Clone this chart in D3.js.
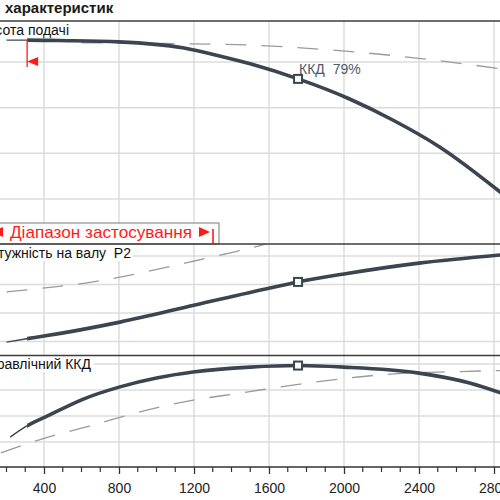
<!DOCTYPE html>
<html><head><meta charset="utf-8">
<script src="https://cdn.jsdelivr.net/npm/d3@7"></script>
<style>
html,body{margin:0;padding:0;background:#fff}
svg{display:block;font-family:"Liberation Sans",Arial,sans-serif}
text{white-space:pre}
</style>
</head><body>
<svg id="chart" width="500" height="500"></svg>
<script>
// ---------- data (flow Q) ----------
const flowTicks = [400, 800, 1200, 1600, 2000, 2400, 2800];
const flowTickLabels = ["400", "800", "1200", "1600", "2000", "2400", "2800"];

const headQ = [200, 310, 480, 800, 1140, 1320, 1500, 1755, 2030, 2260, 2510, 2840];
const headH = [44.8, 44.8, 44.7, 44.4, 43.1, 41.5, 39.6, 36.3, 31.9, 27.3, 21.4, 11.3];
const headRefQ = [600, 1050, 1500, 1940, 2400, 2840];
const headRefH = [44.2, 44.05, 43.7, 42.6, 40.8, 38.5];

const powerQ = [200, 300, 400, 805, 1205, 1605, 1755, 2000, 2400, 2840];
const powerP = [9.8, 10.9, 11.9, 16.8, 22.8, 28.8, 30.9, 33.7, 37.5, 40.4];
const powerRefQ = [200, 405, 620, 805, 990, 1180, 1365, 1565, 1630];
const powerRefP = [27.4, 28.8, 30.5, 32.6, 35.1, 37.9, 40.7, 43.9, 45.3];

const effQ = [220, 300, 430, 610, 805, 1000, 1195, 1500, 1755, 2000, 2400, 2670, 2840];
const effE = [51.9, 55.8, 60.4, 66.5, 71.2, 74.6, 76.9, 78.8, 79.4, 78.8, 76.5, 72.7, 68.8];
const effRefQ = [170, 405, 645, 830, 1020, 1230, 1445, 1550, 1765, 1980, 2190, 2405, 2620, 2840];
const effRefE = [45.8, 51.5, 56.2, 60, 63.5, 66.5, 68.8, 70, 72.3, 74.2, 75.8, 76.7, 77.1, 77.5];

const headGrid = [10, 20, 30, 40];
const powerGrid = [10, 20, 30, 40];
const effGrid = [50, 60, 70, 80];

const bepQ = 1755;
const rangeStartQ = 310;

const titleText = "характеристик";
const headLabel = "Висота подачі";
const powerLabel = "Потужність на валу  P2";
const effLabel = "Гідравлічний ККД";
const bepLabel = "ККД  79%";
const rangeLabel = "Діапазон застосування";

// ---------- layout ----------
const W = 500, H = 500;
const top1 = 21, top2 = 244, top3 = 355.5, axisY = 467;
const curveColor = "#3a4550", gridColor = "#dcdcdc", red = "#ff1a1a";

const svg = d3.select("#chart");
const x = d3.scaleLinear().domain([400, 2800]).range([44, 494]);
const yH = d3.scaleLinear().domain([10, 40]).range([199, 62]);
const yP = d3.scaleLinear().domain([10, 40]).range([341.5, 256]);
const yE = d3.scaleLinear().domain([50, 80]).range([442, 364]);

const defs = svg.append("defs");
function clip(id, x0, y0, y1) {
  defs.append("clipPath").attr("id", id).append("rect")
    .attr("x", x0).attr("y", y0).attr("width", W - x0 + 20).attr("height", y1 - y0);
}
clip("p1", -10, top1, top2);
clip("p2", -10, top2, top3);
clip("p3", -10, top3, axisY);
const xs = x(rangeStartQ);
clip("p1t", xs, top1, top2);
clip("p2t", xs, top2, top3);
clip("p3t", xs, top3, axisY);

// vertical grid
svg.append("g").selectAll("line").data(flowTicks).join("line")
  .attr("x1", d => x(d)).attr("x2", d => x(d))
  .attr("y1", top1).attr("y2", axisY)
  .attr("stroke", gridColor).attr("stroke-width", 1.5);

// horizontal grids
function hgrid(vals, scale) {
  svg.append("g").selectAll("line").data(vals).join("line")
    .attr("x1", 0).attr("x2", W)
    .attr("y1", d => scale(d)).attr("y2", d => scale(d))
    .attr("stroke", gridColor).attr("stroke-width", 1.5);
}
hgrid(headGrid, yH);
hgrid(powerGrid, yP);
hgrid(effGrid, yE);

function panel(qs, vs, rqs, rvs, scale, cid) {
  const line = d3.line().x(d => x(d[0])).y(d => scale(d[1])).curve(d3.curveMonotoneX);
  const pts = qs.map((q, i) => [q, vs[i]]);
  const rpts = rqs.map((q, i) => [q, rvs[i]]);
  const g = svg.append("g").attr("clip-path", `url(#${cid})`);
  g.append("path").attr("d", line(rpts)).attr("fill", "none")
    .attr("stroke", "#9a9a9a").attr("stroke-width", 1.3).attr("stroke-dasharray", "21,15");
  g.append("path").attr("d", line(pts)).attr("fill", "none")
    .attr("stroke", curveColor).attr("stroke-width", 1.4);
  svg.append("g").attr("clip-path", `url(#${cid}t)`)
    .append("path").attr("d", line(pts)).attr("fill", "none")
    .attr("stroke", curveColor).attr("stroke-width", 3.6).attr("stroke-linecap", "butt");
  const bi = qs.indexOf(bepQ);
  svg.append("rect")
    .attr("x", x(bepQ) - 4).attr("y", scale(vs[bi]) - 4)
    .attr("width", 8).attr("height", 8)
    .attr("fill", "#fff").attr("stroke", curveColor).attr("stroke-width", 2);
  return scale(vs[bi]);
}
const bepY1 = panel(headQ, headH, headRefQ, headRefH, yH, "p1");
panel(powerQ, powerP, powerRefQ, powerRefP, yP, "p2");
panel(effQ, effE, effRefQ, effRefE, yE, "p3");

// BEP label
svg.append("text").attr("x", x(bepQ) + 1).attr("y", bepY1 - 5)
  .attr("font-size", 14).attr("fill", "#4d5b68").attr("xml:space", "preserve").text(bepLabel);

// range start marker on head curve
const hs = yH(d3.interpolate(headH[0], headH[1])((rangeStartQ - headQ[0]) / (headQ[1] - headQ[0])));
svg.append("line").attr("x1", xs).attr("x2", xs).attr("y1", hs).attr("y2", hs + 27)
  .attr("stroke", red).attr("stroke-width", 1.3);
svg.append("path")
  .attr("d", `M${xs},${hs + 21.5}L${xs + 11},${hs + 17}L${xs + 11},${hs + 26}Z`)
  .attr("fill", red);

// panel labels with white backing
function label(txt, xEnd, yBase) {
  const t = svg.append("text").attr("x", xEnd).attr("y", yBase)
    .attr("text-anchor", "end").attr("font-size", 14).attr("fill", "#111")
    .attr("xml:space", "preserve").text(txt);
  const b = t.node().getBBox();
  svg.insert("rect", () => t.node())
    .attr("x", b.x - 2).attr("y", b.y - 1).attr("width", b.width + 4).attr("height", b.height + 1)
    .attr("fill", "#fff");
}
label(headLabel, 69, 35);
label(powerLabel, 131, 258);
label(effLabel, 91, 369);

// application range box
svg.append("rect").attr("x", -20).attr("y", 223).attr("width", 239).attr("height", top2 - 223)
  .attr("fill", "#fff").attr("stroke", "#7a7a7a").attr("stroke-width", 1);
svg.append("text").attr("x", 10).attr("y", 237.5).attr("font-size", 17).attr("fill", red)
  .attr("textLength", 182).attr("lengthAdjust", "spacingAndGlyphs").text(rangeLabel);
svg.append("path").attr("d", "M3,227L-8,232L3,237Z").attr("fill", red);
svg.append("path").attr("d", "M199,227L210,232L199,237Z").attr("fill", red);
svg.append("line").attr("x1", 213).attr("x2", 213).attr("y1", 229).attr("y2", 243.5)
  .attr("stroke", red).attr("stroke-width", 1.6);

// separators
[top1, top2, top3].forEach(yv => {
  svg.append("line").attr("x1", 0).attr("x2", W).attr("y1", yv).attr("y2", yv)
    .attr("stroke", "#3c3c3c").attr("stroke-width", 1.5);
});

// axis
const axis = d3.axisBottom(x).tickValues(flowTicks).tickSize(7)
  .tickFormat((d, i) => flowTickLabels[i]);
const ax = svg.append("g").attr("transform", `translate(0,${axisY})`).call(axis);
ax.select(".domain").remove();
ax.selectAll(".tick line").attr("stroke", "#333").attr("stroke-width", 1.3);
ax.selectAll(".tick text").attr("font-size", 14).attr("fill", "#222").attr("dy", 0).attr("y", 26)
  .attr("font-family", "Liberation Sans, Arial, sans-serif");
const minor = d3.range(0, 3100, 100).filter(d => !flowTicks.includes(d));
svg.append("g").selectAll("line").data(minor).join("line")
  .attr("x1", d => x(d)).attr("x2", d => x(d)).attr("y1", axisY).attr("y2", axisY + 5)
  .attr("stroke", "#333").attr("stroke-width", 1.2);
svg.append("line").attr("x1", 0).attr("x2", W).attr("y1", axisY).attr("y2", axisY)
  .attr("stroke", "#333").attr("stroke-width", 1.5);

// title
svg.append("text").attr("x", 5).attr("y", 13).attr("font-size", 15).attr("font-weight", "bold")
  .attr("fill", "#1a1a1a").text(titleText);
</script>
</body></html>
